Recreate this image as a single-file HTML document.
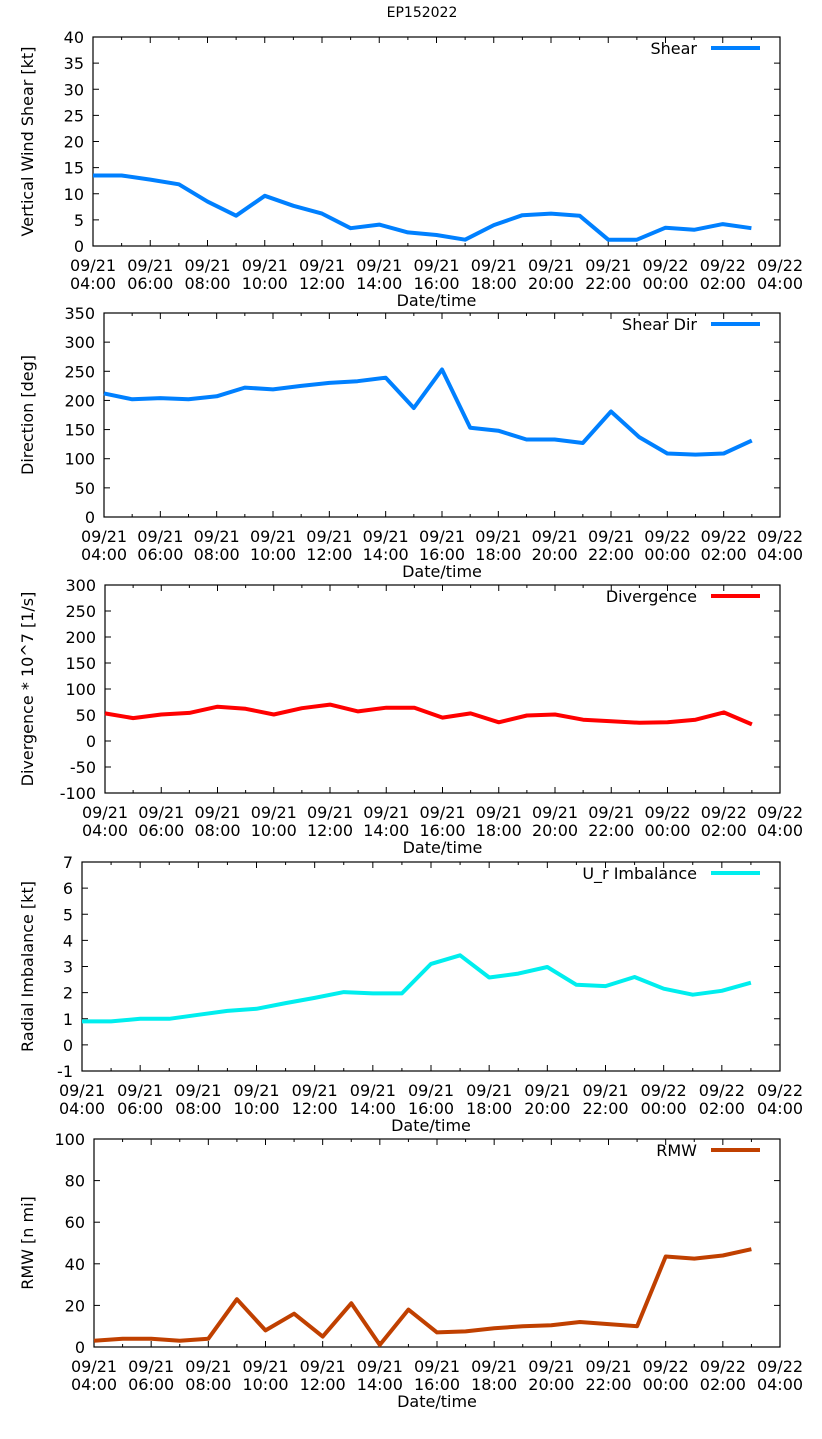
<!DOCTYPE html>
<html><head><meta charset="utf-8"><style>
body{margin:0;background:#fff;}
svg{display:block;font-family:"DejaVu Sans","Liberation Sans",sans-serif;}
</style></head><body>
<svg id="c" width="822" height="1439">
<text x="422" y="17" text-anchor="middle" font-size="14">EP152022</text>
</svg>
<script>
const xTickTop = ["09/21","09/21","09/21","09/21","09/21","09/21","09/21","09/21","09/21","09/21","09/22","09/22","09/22"];
const xTickBot = ["04:00","06:00","08:00","10:00","12:00","14:00","16:00","18:00","20:00","22:00","00:00","02:00","04:00"];
const shear = [13.5,13.5,12.7,11.8,8.5,5.8,9.6,7.7,6.2,3.4,4.1,2.6,2.1,1.2,4.0,5.9,6.2,5.8,1.2,1.2,3.5,3.1,4.2,3.4];
const shearDir = [212,202,204,202,207,222,219,225,230,233,239,187,253,153,148,133,133,127,181,137,109,107,109,131];
const divergence = [53,44,51,54,66,62,51,63,70,57,64,64,45,53,36,49,51,41,38,35,36,41,55,32];
const urImbalance = [0.9,0.9,1.0,1.0,1.15,1.3,1.38,1.6,1.8,2.02,1.97,1.97,3.1,3.43,2.58,2.73,2.98,2.3,2.25,2.6,2.15,1.92,2.07,2.38];
const rmw = [3,4,4,3,4,23,8,16,5,21,1,18,7,7.5,9,10,10.5,12,11,10,43.5,42.5,44,47];
const shearTicks = [0,5,10,15,20,25,30,35,40];
const dirTicks = [0,50,100,150,200,250,300,350];
const divTicks = [-100,-50,0,50,100,150,200,250,300];
const urTicks = [-1,0,1,2,3,4,5,6,7];
const rmwTicks = [0,20,40,60,80,100];

const svg=document.getElementById('c');
const NS="http://www.w3.org/2000/svg";
function mk(tag,attrs,parent){const e=document.createElementNS(NS,tag);for(const k in attrs)e.setAttribute(k,attrs[k]);(parent||svg).appendChild(e);return e;}

function panel(p){
  const g=mk('g',{});
  
  
  const L=p.left,R=780,T=p.top,B=p.bottom;
  const ymin=p.ticks[0],ymax=p.ticks[p.ticks.length-1];
  const xs=h=>L+(R-L)*h/24;
  const ys=v=>B-(B-T)*(v-ymin)/(ymax-ymin);
  p.ticks.forEach(t=>{
    const y=ys(t);
    mk('line',{x1:L,x2:L+6,y1:y,y2:y,stroke:'#000','stroke-width':1},g);
    mk('line',{x1:R,x2:R-6,y1:y,y2:y,stroke:'#000','stroke-width':1},g);
    const tx=mk('text',{x:L-9,y:y+6,'text-anchor':'end','font-size':16},g);
    tx.textContent=t;
    
    
  });
  for(let h=0;h<=24;h++){
    const x=xs(h),len=h%2===0?6:3;
    mk('line',{x1:x,x2:x,y1:B,y2:B-len,stroke:'#000','stroke-width':1},g);
    mk('line',{x1:x,x2:x,y1:T,y2:T+len,stroke:'#000','stroke-width':1},g);
  }
  xTickTop.forEach((s,i)=>{
    const x=xs(i*2);
    const a=mk('text',{x:x,y:B+25,'text-anchor':'middle','font-size':16},g);a.textContent=s;
    
    
    const b=mk('text',{x:x,y:B+43,'text-anchor':'middle','font-size':16},g);b.textContent=xTickBot[i];
    
    
  });
  mk('rect',{x:L,y:T,width:R-L,height:B-T,fill:'none',stroke:'#000','stroke-width':1.2},g);
  const xt=mk('text',{x:(L+R)/2,y:B+60,'text-anchor':'middle','font-size':16},g);xt.textContent='Date/time';
  
  
  const yt=mk('text',{x:0,y:0,'text-anchor':'middle','font-size':16,transform:`translate(33,${(T+B)/2}) rotate(-90)`},g);yt.textContent=p.ylabel;
  
  
  const pts=p.data.map((v,i)=>xs(i).toFixed(1)+','+ys(v).toFixed(1)).join(' ');
  const pl=mk('polyline',{points:pts,fill:'none',stroke:p.color,'stroke-width':4,'stroke-linejoin':'round'},g);
  
  
  const lt=mk('text',{x:697,y:T+17,'text-anchor':'end','font-size':16},g);lt.textContent=p.legend;
  
  
  const ll=mk('line',{x1:711,x2:760,y1:T+11,y2:T+11,stroke:p.color,'stroke-width':4},g);
  
  
}
panel({name:'shear',left:93,top:37,bottom:246,ticks:shearTicks,data:shear,color:'#0080ff',legend:'Shear',ylabel:'Vertical Wind Shear [kt]'});
panel({name:'shear-dir',left:104,top:313,bottom:517,ticks:dirTicks,data:shearDir,color:'#0080ff',legend:'Shear Dir',ylabel:'Direction [deg]'});
panel({name:'divergence',left:105,top:585,bottom:793,ticks:divTicks,data:divergence,color:'#ff0000',legend:'Divergence',ylabel:'Divergence * 10^7 [1/s]'});
panel({name:'radial-imbalance',left:82,top:862,bottom:1071,ticks:urTicks,data:urImbalance,color:'#00eeee',legend:'U_r Imbalance',ylabel:'Radial Imbalance [kt]'});
panel({name:'rmw',left:94,top:1139,bottom:1347,ticks:rmwTicks,data:rmw,color:'#c04000',legend:'RMW',ylabel:'RMW [n mi]'});
</script>
</body></html>
